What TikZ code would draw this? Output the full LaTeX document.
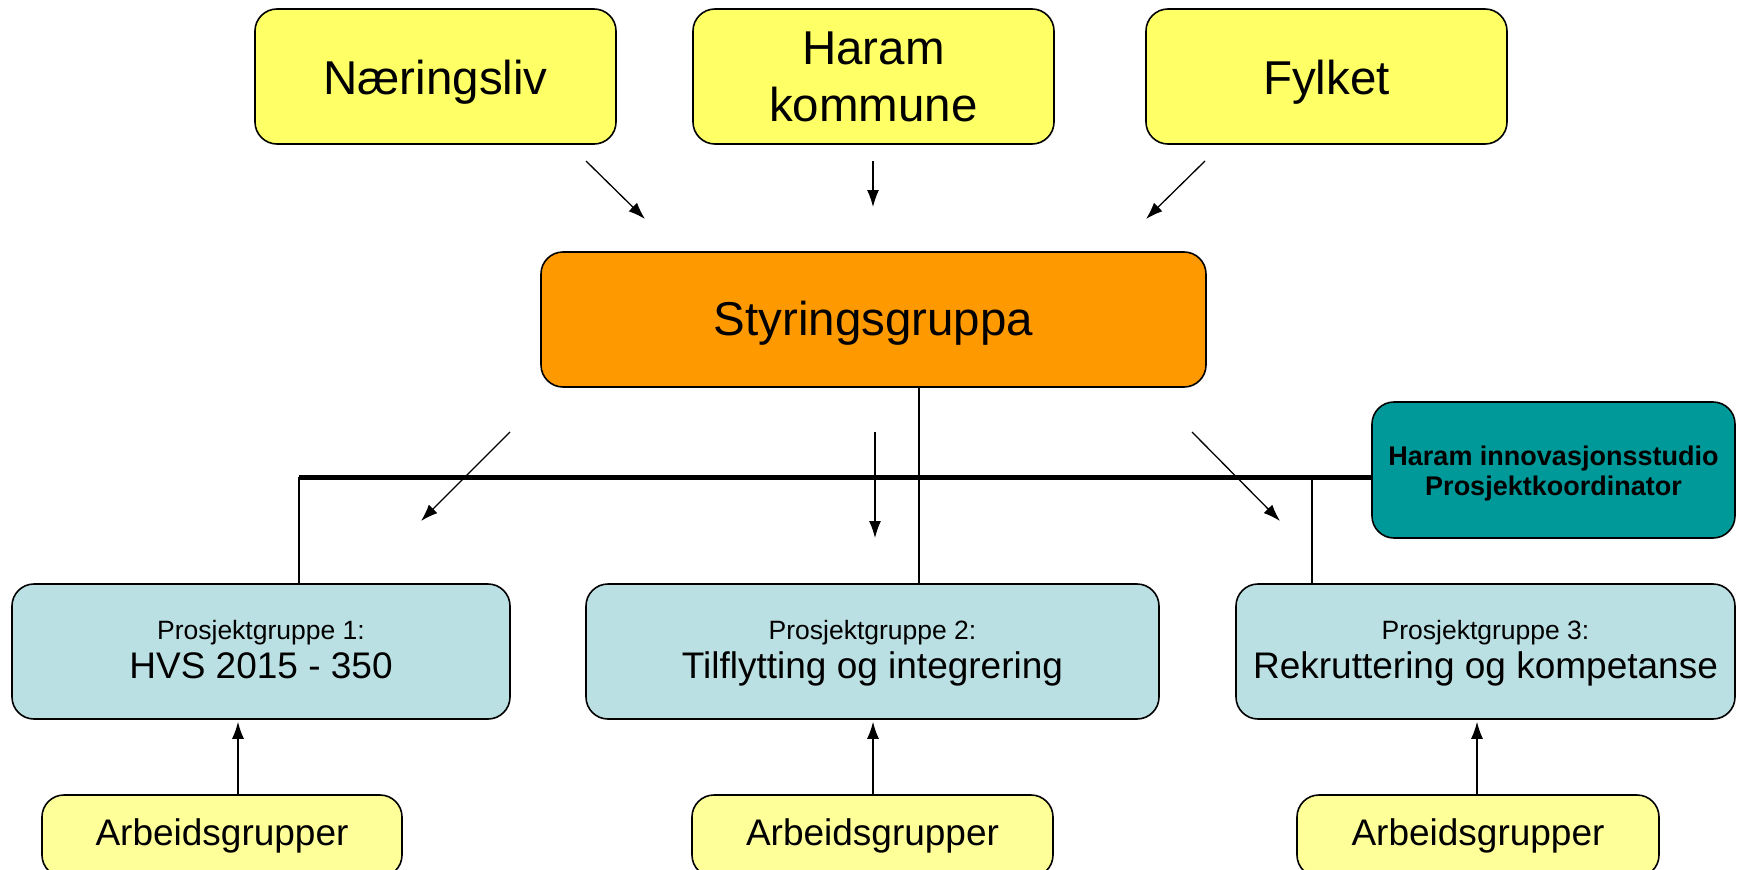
\documentclass[tikz,border=0pt]{standalone}
\usepackage{fontspec}
\setmainfont{Liberation Sans}
\usetikzlibrary{arrows.meta}
\definecolor{yel}{HTML}{FFFF66}
\definecolor{yellight}{HTML}{FFFF99}
\definecolor{orng}{HTML}{FF9900}
\definecolor{lblue}{HTML}{BBE0E3}
\definecolor{tealbox}{HTML}{009999}
\begin{document}
\begin{tikzpicture}[x=1pt,y=-1pt,
  box/.style={draw=black, line width=1.6pt, rounded corners=22pt, inner sep=0pt, align=center},
  big/.style={font=\fontsize{47.5}{57}\selectfont},
  mid/.style={font=\fontsize{37}{39}\selectfont},
  pgbox/.style={box, mid, fill=lblue, minimum height=135pt, text height=61pt, text depth=8pt},
  agbox/.style={box, font=\fontsize{37}{43}\selectfont, fill=yellight, minimum height=82pt},
  topbox/.style={box, big, fill=yel, minimum width=361pt, minimum height=135pt},
  arr/.style={-{Latex[length=17pt,width=12pt]}, line width=1.3pt},
  thinline/.style={line width=1.5pt},
  thickline/.style={line width=5pt}]
\clip (0,0) rectangle (1738,870);
\fill[white] (0,0) rectangle (1738,870);

% top boxes
\node[topbox, text height=45pt, text depth=10pt] (nar) at (435.5,76.5) {Næringsliv};
\node[topbox] (har) at (873.5,76.5) {Haram\\kommune};
\node[topbox, text height=45pt, text depth=10pt] (fyl) at (1326.5,76.5) {Fylket};

% steering group
\node[box, big, fill=orng, minimum width=665pt, minimum height=135pt, text height=41pt, text depth=10pt] (sty) at (873.5,319.5) {Styringsgruppa};

% coordinator
\node[box, fill=tealbox, minimum width=363pt, minimum height=136pt, text height=56pt, text depth=6pt, font=\bfseries\fontsize{27}{30}\selectfont] (inn) at (1553.5,470) {Haram innovasjonsstudio\\Prosjektkoordinator};

% project groups
\node[pgbox, minimum width=498pt] (pg1) at (261,651.5) {{\fontsize{26.5}{30}\selectfont Prosjektgruppe 1:}\\HVS 2015 - 350};
\node[pgbox, minimum width=573pt] (pg2) at (872.5,651.5) {{\fontsize{26.5}{30}\selectfont Prosjektgruppe 2:}\\Tilflytting og integrering};
\node[pgbox, minimum width=499pt] (pg3) at (1485.5,651.5) {{\fontsize{26.5}{30}\selectfont Prosjektgruppe 3:}\\Rekruttering og kompetanse};

% working groups
\node[agbox, minimum width=360pt] (ag1) at (222,836) {Arbeidsgrupper};
\node[agbox, minimum width=361pt] (ag2) at (872.5,836) {Arbeidsgrupper};
\node[agbox, minimum width=362pt] (ag3) at (1478,836) {Arbeidsgrupper};

% free arrow ends
\coordinate (t1s) at (586,161);  \coordinate (t1e) at (645,219);
\coordinate (t2s) at (873,161);  \coordinate (t2e) at (873,207);
\coordinate (t3s) at (1205,161); \coordinate (t3e) at (1146,219);
\coordinate (b1s) at (510,432);  \coordinate (b1e) at (421,521);
\coordinate (b2s) at (875,432);  \coordinate (b2e) at (875,538);
\coordinate (b3s) at (1192,432); \coordinate (b3e) at (1280,521);

% connector lines
\coordinate (hl) at (299,477);
\coordinate (v3) at (1312,477);
\coordinate (cx) at (919,0);
\draw[thinline] (hl) -- (hl |- pg1.north);
\draw[thinline] (v3) -- (v3 |- pg3.north);
\draw[thinline] (cx |- sty.south) -- (cx |- pg2.north);
\draw[thickline] (hl) -- (hl -| inn.west);

% arrows
\draw[arr] (t1s) -- (t1e);
\draw[arr] (t2s) -- (t2e);
\draw[arr] (t3s) -- (t3e);
\draw[arr] (b1s) -- (b1e);
\draw[arr] (b2s) -- (b2e);
\draw[arr] (b3s) -- (b3e);

\coordinate (a1) at (238,0);
\coordinate (a2) at (873,0);
\coordinate (a3) at (1477,0);
\draw[arr] (ag1.north -| a1) -- ([yshift=-2pt]pg1.south -| a1);
\draw[arr] (ag2.north -| a2) -- ([yshift=-2pt]pg2.south -| a2);
\draw[arr] (ag3.north -| a3) -- ([yshift=-2pt]pg3.south -| a3);
\end{tikzpicture}
\end{document}
